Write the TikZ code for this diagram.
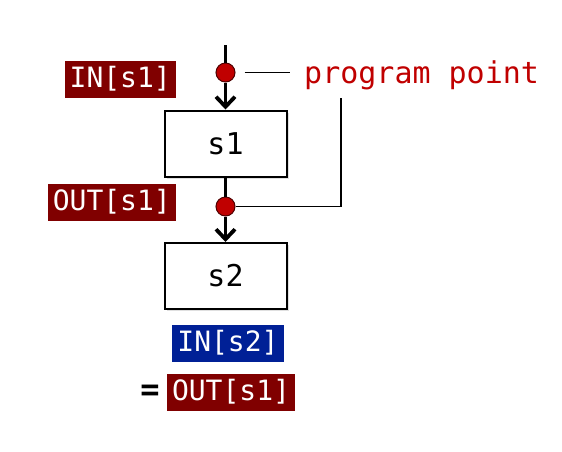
\documentclass[tikz,border=0pt]{standalone}
\usepackage{fontspec}
\setmonofont{DejaVu Sans Mono}
\usetikzlibrary{arrows.meta}
\usetikzlibrary{positioning}
\usetikzlibrary{shadows}
\definecolor{darkred}{RGB}{128,0,0}
\definecolor{darkblue}{RGB}{0,32,150}
\definecolor{pointred}{RGB}{192,0,0}
\newcommand{\widthstmt}{122pt}
\newcommand{\heightstmt}{66pt}
\newcommand{\codefont}[1]{\ttfamily\fontsize{#1}{#1}\selectfont}
\tikzset{
    common/.style={font=\codefont{28}, inner xsep=5pt},
    stmt/.style={common, font=\codefont{30}, draw, line width=2pt, fill=white, minimum width=\widthstmt, minimum height=\heightstmt,
        drop shadow={opacity=0.25, shadow xshift=2pt, shadow yshift=-2pt}},
    set/.style={common, text=white, text height=22pt, text depth=6pt, inner ysep=4.5pt},
    point/.style={circle, draw=darkred!60!black, fill=pointred, line width=1pt, minimum size=19pt, inner sep=0pt},
    flow/.style={line width=3.8pt},
    flow-arrow/.style={flow, -{Straight Barb[length=10pt, width=19pt]}},
    note/.style={line width=1.3pt}
}
\begin{document}
\begin{tikzpicture}[x=1pt, y=-1pt]
    \useasboundingbox (0,0) rectangle (562,451);
    % statements
    \node[stmt] (s1) at (225.5,143.5) {s1};
    \node[stmt, below=64.5pt of s1] (s2) {s2};
    % program points
    \coordinate (entry) at (225.5,45);
    \node[point] (p1) at (225.5,72.5) {};
    \node[point] (p2) at (225.5,206.5) {};
    \draw[flow] (entry) -- (p1);
    \draw[flow-arrow] (p1) -- (s1);
    \draw[flow] (s1) -- (p2);
    \draw[flow-arrow] (p2) -- (s2);
    % callout
    \node[common, font=\codefont{30}, text=pointred, anchor=base west, inner sep=0pt] (pp) at (304,83) {program point};
    \coordinate (bend) at (341,98);
    \draw[note, shorten <=9pt, shorten >=14pt] (p1.east) -- (p1.east -| pp.west);
    \draw[note] (p2.east) -| (bend);
    % in/out sets
    \node[set, fill=darkred, anchor=east] (in-s1) at (176,79.5) {IN[s1]};
    \node[set, fill=darkred, anchor=east] (out-s1) at (176,202.5) {OUT[s1]};
    \node[set, fill=darkblue] (in-s2) at (228,343.5) {IN[s2]};
    \node[set, fill=darkred] (out-s1-eq) at (231,392.5) {OUT[s1]};
    \node[common, font=\codefont{32}\bfseries, anchor=base east, xshift=-2pt] (eq) at (out-s1-eq.base west) {=};
\end{tikzpicture}
\end{document}
